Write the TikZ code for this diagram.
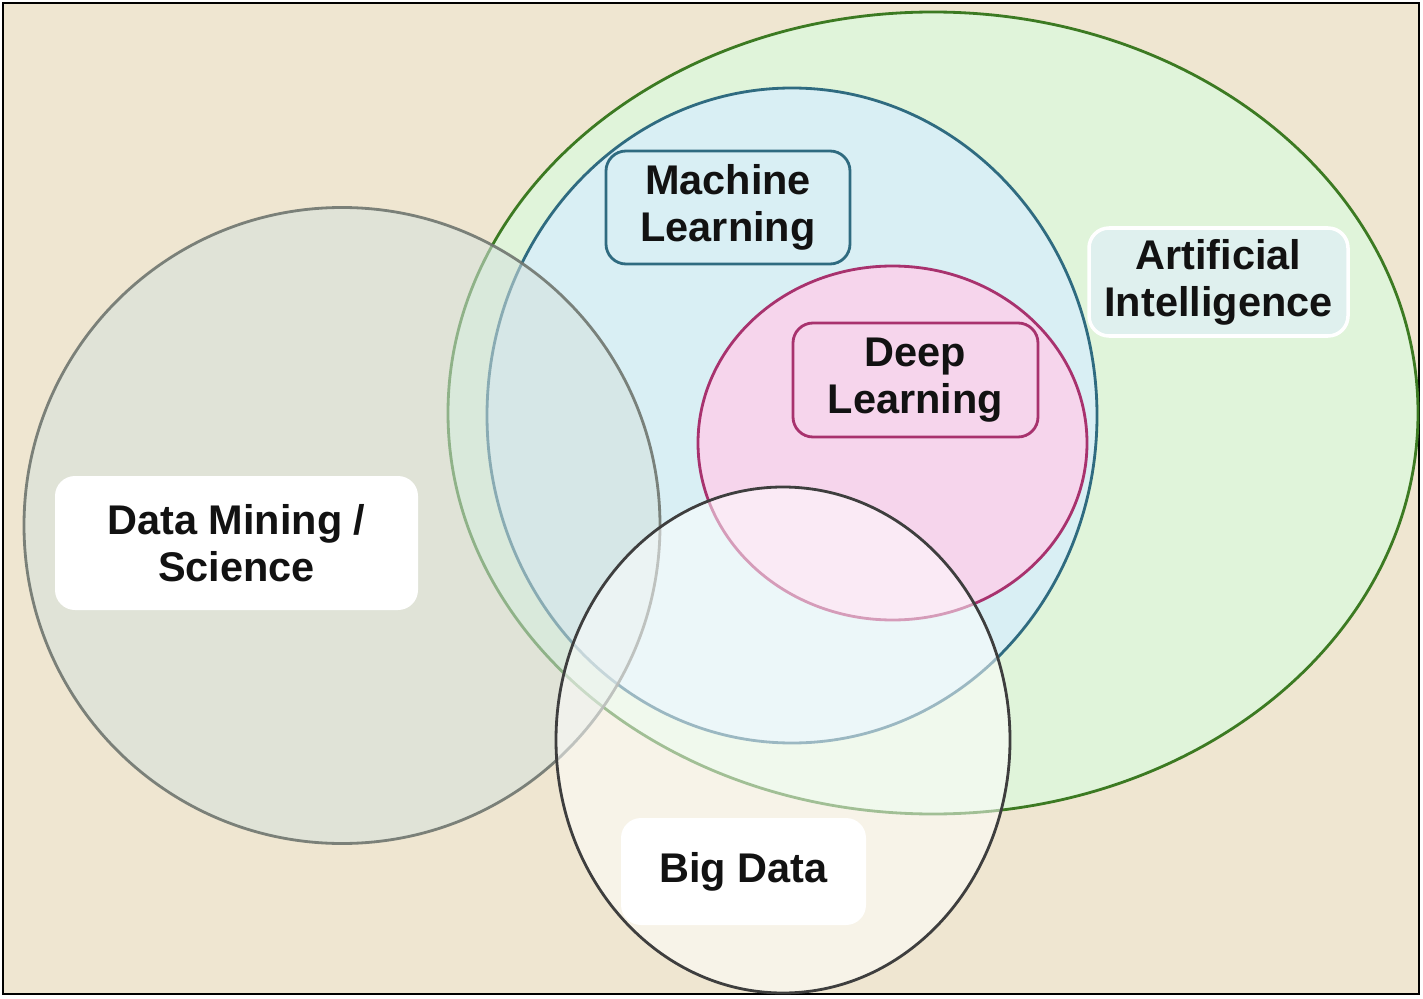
\documentclass[tikz,border=0pt]{standalone}
\usepackage{fontspec}
\setmainfont{Liberation Sans}
\usetikzlibrary{positioning}
\definecolor{paper}{HTML}{EFE6D1}
\definecolor{aifill}{HTML}{E0F4DA}
\definecolor{ailine}{HTML}{3C7A22}
\definecolor{mlfill}{HTML}{D9EFF4}
\definecolor{mlline}{HTML}{2F6B80}
\definecolor{dlfill}{HTML}{F6D5EC}
\definecolor{dlline}{HTML}{A8326E}
\definecolor{dmfill}{HTML}{D4E1DD}
\definecolor{dmline}{HTML}{6F766F}
\definecolor{bdline}{HTML}{3E3E3E}
\definecolor{ailabel}{HTML}{DFF0EE}
\tikzset{
  lbl/.style={rounded corners=0.2cm, align=center, inner sep=0pt,
    font=\fontsize{11.8}{13.4}\selectfont\bfseries, text=black!93},
  mlbox/.style={lbl, draw=mlline, line width=0.8pt, fill=mlfill},
  dlbox/.style={lbl, draw=dlline, line width=0.8pt, fill=dlfill},
  aibox/.style={lbl, draw=white, line width=1pt, fill=ailabel},
  plainbox/.style={lbl, fill=white}
}
\begin{document}
\begin{tikzpicture}
      \useasboundingbox (0, 0) rectangle (14.23, 9.98);
      \fill [white] (0, 0) rectangle (14.23, 9.98);
      \draw [black, line width=0.7pt, fill=paper] (0.03, 0.04) rectangle (14.19, 9.95);

      \draw [ailine, line width=0.8pt, fill=aifill] (9.33, 5.85) ellipse [x radius=4.85, y radius=4.01];
      \draw [mlline, line width=0.8pt, fill=mlfill] (7.92, 5.825) ellipse [x radius=3.05, y radius=3.275];
      \draw [dlline, line width=0.8pt, fill=dlfill] (8.925, 5.55) ellipse [x radius=1.945, y radius=1.77];
      \draw [dmline, line width=0.8pt, fill=dmfill, fill opacity=0.55, draw opacity=0.9] (3.42, 4.725) circle [radius=3.18];
      \draw [bdline, line width=0.8pt, fill=white, fill opacity=0.52] (7.83, 2.58) ellipse [x radius=2.27, y radius=2.53];

      \node [mlbox, minimum width=2.44cm, minimum height=1.13cm] (ml) at (7.28, 7.905) {Machine\\Learning};
      \node [dlbox, minimum width=2.45cm, minimum height=1.14cm] (dl) at (9.155, 6.18) {Deep\\Learning};
      \node [aibox, minimum width=2.59cm, minimum height=1.08cm] (ai) at (12.185, 7.16) {Artificial\\Intelligence};
      \node [plainbox, minimum width=3.63cm, minimum height=1.34cm] (dm) at (2.365, 4.55) {Data Mining /\\Science};
      \node [plainbox, minimum width=2.45cm, minimum height=1.07cm] (bd) at (7.435, 1.265) {Big Data};
\end{tikzpicture}
\end{document}
